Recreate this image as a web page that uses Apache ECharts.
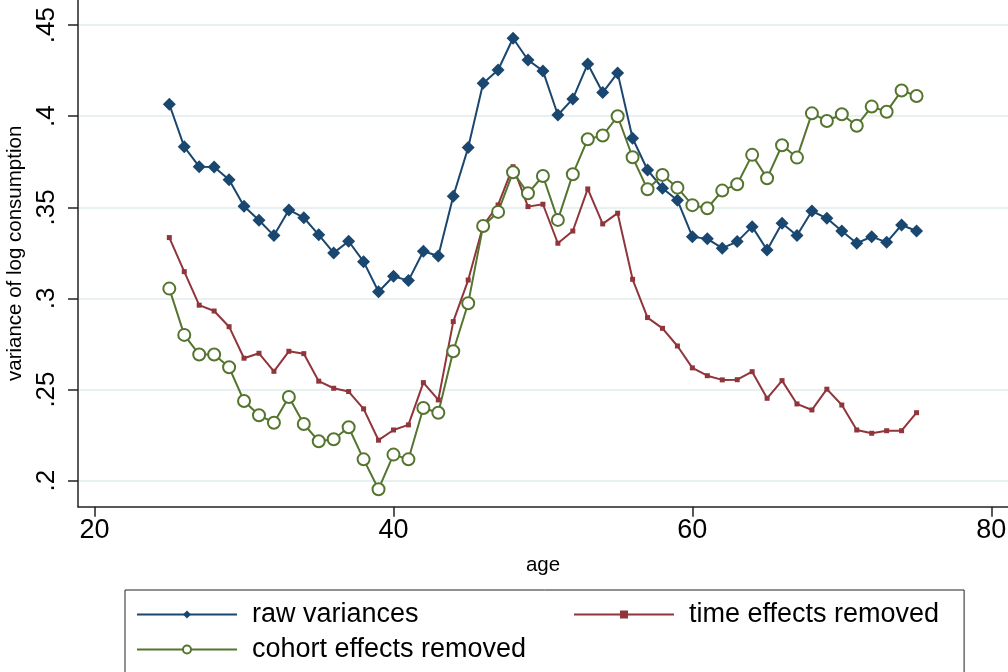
<!DOCTYPE html>
<html>
<head>
<meta charset="utf-8">
<script src="https://cdn.jsdelivr.net/npm/echarts@6/dist/echarts.min.js"></script>
<style>
html,body{margin:0;padding:0;background:#fff;}
#c{width:1008px;height:672px;}
</style>
</head>
<body>
<div id="c"></div>
<script>
var ages = [];
for (var a = 25; a <= 75; a++) ages.push(a);

var rawVariances = [0.4066,0.3832,0.3723,0.3722,0.3652,0.3506,0.3429,0.3345,0.3486,0.3443,
0.3349,0.3250,0.3314,0.3202,0.3037,0.3122,0.3098,0.3259,0.3233,0.3561,
0.3828,0.4181,0.4254,0.4428,0.4309,0.4249,0.4007,0.4095,0.4287,0.4130,
0.4238,0.3879,0.3705,0.3605,0.3539,0.3339,0.3327,0.3276,0.3312,0.3394,
0.3266,0.3413,0.3345,0.3480,0.3440,0.3370,0.3303,0.3339,0.3308,0.3403,0.3370];

var timeRemoved = [0.3334,0.3147,0.2963,0.2931,0.2845,0.2672,0.2699,0.2600,0.2710,0.2697,
0.2546,0.2507,0.2489,0.2394,0.2222,0.2278,0.2306,0.2538,0.2443,0.2873,
0.3101,0.3400,0.3513,0.3723,0.3504,0.3517,0.3303,0.3370,0.3601,0.3409,
0.3468,0.3105,0.2895,0.2836,0.2739,0.2619,0.2576,0.2553,0.2554,0.2598,
0.2452,0.2549,0.2421,0.2388,0.2502,0.2415,0.2278,0.2260,0.2274,0.2274,0.2373];

var cohortRemoved = [0.3054,0.2800,0.2692,0.2692,0.2622,0.2437,0.2359,0.2318,0.2459,0.2311,
0.2216,0.2227,0.2293,0.2117,0.1953,0.2143,0.2117,0.2399,0.2373,0.2710,
0.2974,0.3398,0.3475,0.3693,0.3577,0.3672,0.3431,0.3682,0.3874,0.3894,
0.4000,0.3775,0.3599,0.3678,0.3608,0.3512,0.3495,0.3592,0.3627,0.3788,
0.3660,0.3841,0.3773,0.4016,0.3974,0.4011,0.3948,0.4053,0.4025,0.4141,0.4111];

var xTicks = [20, 40, 60, 80];
var yTicks = [0.2, 0.25, 0.3, 0.35, 0.4, 0.45];
var yTickLabels = ['.2', '.25', '.3', '.35', '.4', '.45'];
var seriesNames = ['raw variances', 'time effects removed', 'cohort effects removed'];

function pairs(vals) {
  return ages.map(function (a, i) { return [a, vals[i]]; });
}
function yLabel(v) {
  for (var i = 0; i < yTicks.length; i++) {
    if (Math.abs(yTicks[i] - v) < 1e-9) return yTickLabels[i];
  }
  return '';
}

var FONT = 'Liberation Sans, Arial, sans-serif';
var chart = echarts.init(document.getElementById('c'), null, {renderer: 'canvas'});
chart.setOption({
  backgroundColor: '#ffffff',
  animation: false,
  grid: {left: 78, top: 0, right: 0, bottom: 165.3, containLabel: false, outerBoundsMode: 'none'},
  xAxis: {
    type: 'value',
    min: 18.89, max: 81.12,
    name: 'age',
    nameLocation: 'middle',
    nameGap: 48,
    nameTextStyle: {fontFamily: FONT, fontSize: 20.5, color: '#000'},
    axisLine: {show: true, onZero: false, lineStyle: {color: '#222', width: 1.5}},
    axisTick: {show: true, customValues: xTicks, length: 10, lineStyle: {color: '#222', width: 1.5}},
    axisLabel: {customValues: xTicks, fontFamily: FONT, fontSize: 27, color: '#000', margin: 10, hideOverlap: false},
    splitLine: {show: false}
  },
  yAxis: {
    type: 'value',
    min: 0.1857, max: 0.4638,
    name: 'variance of log consumption',
    nameLocation: 'middle',
    nameRotate: 90,
    nameGap: 48,
    nameTextStyle: {fontFamily: FONT, fontSize: 20.5, color: '#000'},
    axisLine: {show: true, onZero: false, lineStyle: {color: '#222', width: 1.5}},
    axisTick: {show: true, customValues: yTicks, length: 10, lineStyle: {color: '#222', width: 1.5}},
    axisLabel: {customValues: yTicks, formatter: yLabel, rotate: 90, fontFamily: FONT, fontSize: 26, color: '#000', margin: 18, hideOverlap: false},
    splitLine: {show: true, customValues: yTicks, lineStyle: {color: '#e8f0f2', width: 2}}
  },
  legend: {
    left: 125, top: 590,
    orient: 'horizontal',
    width: 860,
    padding: [11, 25, 30, 11],
    borderColor: '#222', borderWidth: 1,
    itemWidth: 100, itemHeight: 10, itemGap: 8,
    data: seriesNames,
    formatter: function (name) {
      return name === seriesNames[0] ? '{a|' + name + '}' : '{b|' + name + '}';
    },
    textStyle: {
      fontFamily: FONT, fontSize: 27, color: '#000',
      rich: {
        a: {fontFamily: FONT, fontSize: 27, color: '#000', width: 313, lineHeight: 33.5, padding: [0, 0, 0, 10]},
        b: {fontFamily: FONT, fontSize: 27, color: '#000', lineHeight: 33.5, padding: [0, 0, 0, 10]}
      }
    }
  },
  series: [
    {
      name: seriesNames[0], type: 'line', data: pairs(rawVariances),
      symbol: 'diamond', symbolSize: 13,
      itemStyle: {color: '#1a476f'},
      lineStyle: {color: '#1a476f', width: 2}
    },
    {
      name: seriesNames[1], type: 'line', data: pairs(timeRemoved),
      symbol: 'rect', symbolSize: 5,
      itemStyle: {color: '#90353b'},
      lineStyle: {color: '#90353b', width: 2}
    },
    {
      name: seriesNames[2], type: 'line', data: pairs(cohortRemoved),
      symbol: 'emptyCircle', symbolSize: 12,
      itemStyle: {color: '#55752f', borderWidth: 2},
      lineStyle: {color: '#55752f', width: 2}
    }
  ]
});
</script>
</body>
</html>
